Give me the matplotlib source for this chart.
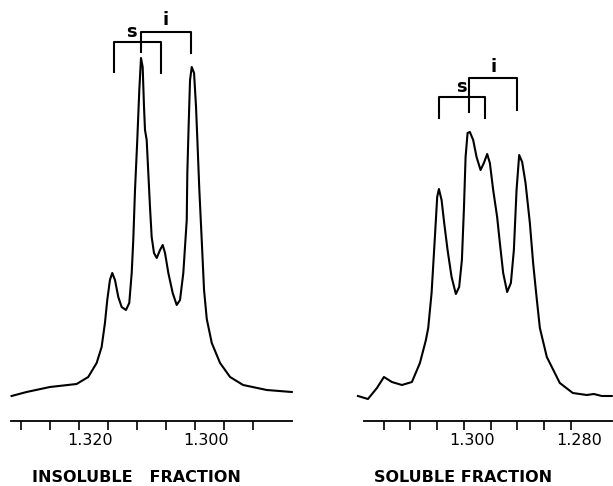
import matplotlib
matplotlib.use("Agg")
import matplotlib.pyplot as plt
from matplotlib.transforms import ScaledTranslation

# ---- traced spectra (chemical shift in ppm / intensity, arbitrary units) ----
insol_ppm = [1.33160, 1.32902, 1.32500, 1.32040, 1.31840, 1.31695, 1.31609,
             1.31552, 1.31512, 1.31466, 1.31426, 1.31379, 1.31322, 1.31264,
             1.31190, 1.31133, 1.31091, 1.31064, 1.31034, 1.30995, 1.30960,
             1.30931, 1.30902, 1.30879, 1.30862, 1.30833, 1.30805, 1.30776,
             1.30747, 1.30707, 1.30660, 1.30603, 1.30557, 1.30517, 1.30460,
             1.30385, 1.30316, 1.30259, 1.30202, 1.30143, 1.30133, 1.30109,
             1.30086, 1.30057, 1.30017, 1.29983, 1.29960, 1.29926, 1.29885,
             1.29845, 1.29798, 1.29712, 1.29569, 1.29397, 1.29172, 1.28764,
             1.28333]
insol_int = [25, 29, 34, 37, 44, 58, 74,
             98, 121, 141, 148, 141, 124, 114,
             111, 118, 148, 181, 231, 281, 331,
             363, 354, 314, 291, 281, 248, 214,
             184, 168, 163, 171, 176, 168, 148,
             128, 116, 121, 148, 201, 248, 298,
             341, 354, 348, 314, 281, 231, 181,
             131, 102, 78, 58, 44, 36, 31,
             29]

sol_ppm = [1.31981, 1.31794, 1.31626, 1.31495, 1.31346, 1.31159, 1.30972,
           1.30822, 1.30710, 1.30667, 1.30604, 1.30542, 1.30499, 1.30467,
           1.30417, 1.30368, 1.30305, 1.30230, 1.30150, 1.30088, 1.30037,
           1.30000, 1.29968, 1.29931, 1.29888, 1.29826, 1.29763, 1.29688,
           1.29626, 1.29564, 1.29514, 1.29452, 1.29378, 1.29327, 1.29265,
           1.29191, 1.29121, 1.29065, 1.29015, 1.28966, 1.28910, 1.28847,
           1.28766, 1.28705, 1.28641, 1.28579, 1.28449, 1.28206, 1.27963,
           1.27701, 1.27570, 1.27421, 1.27234]
sol_int = [25, 22, 33, 44, 39, 36, 39,
           58, 81, 93, 128, 184, 224, 232,
           221, 198, 171, 144, 127, 134, 161,
           211, 264, 288, 289, 281, 264, 251,
           258, 267, 258, 231, 204, 178, 148,
           129, 138, 171, 231, 266, 259, 238,
           198, 158, 124, 93, 64, 38, 28,
           26, 27, 25, 25]

# ---- s / i assignment brackets: (left ppm, right ppm, bar height, left foot, right foot) ----
insol_s = (1.3140, 1.3059, 379, 349, 348)
insol_i = (1.3093, 1.3007, 389, 369, 368)
insol_s_lbl = (1.3109, 389)
insol_i_lbl = (1.3050, 401)

sol_s = (1.30467, 1.29607, 324, 303, 303)
sol_i = (1.29907, 1.29009, 343, 309, 311)
sol_s_lbl = (1.30037, 334)
sol_i_lbl = (1.29439, 354)

insol_ticks = [1.330, 1.325, 1.320, 1.315, 1.310, 1.305, 1.300, 1.295, 1.290]
insol_labeled = [1.320, 1.300]
sol_ticks = [1.315, 1.310, 1.305, 1.300, 1.295, 1.290, 1.285, 1.280]
sol_labeled = [1.300, 1.280]

W, H = 613, 486
fig = plt.figure(figsize=(W / 100, H / 100), dpi=100)


def panel(rect, xlim, axis_bounds, ppm, inten, brk_s, brk_i, s_lbl, i_lbl,
          ticks, labeled, title, title_x, label_dx):
    ax = fig.add_axes(rect)
    ax.plot(ppm, inten, color="black", lw=1.5, solid_joinstyle="round",
            clip_on=False)
    for left, right, top, foot_l, foot_r in (brk_s, brk_i):
        ax.plot([left, left, right, right], [foot_l, top, top, foot_r],
                color="black", lw=1.5, clip_on=False)
    ax.text(*s_lbl, "s", ha="center", va="center", fontsize=13,
            fontweight="bold")
    ax.text(*i_lbl, "i", ha="center", va="center", fontsize=13,
            fontweight="bold")
    ax.set_xlim(*xlim)
    ax.set_ylim(0, 411)
    for sp in ("top", "left", "right"):
        ax.spines[sp].set_visible(False)
    ax.spines["bottom"].set_linewidth(1.3)
    ax.spines["bottom"].set_bounds(*axis_bounds)
    ax.set_yticks([])
    ax.set_xticks(ticks)
    ax.set_xticklabels([f"{t:.3f}" if t in labeled else "" for t in ticks])
    ax.tick_params(axis="x", direction="out", length=6.5, width=1.2,
                   pad=2, labelsize=11.5)
    off = ScaledTranslation(label_dx / 100, 0, fig.dpi_scale_trans)
    for lab in ax.get_xticklabels():
        lab.set_transform(lab.get_transform() + off)
    fig.text(title_x / W, 1 - 477 / H, title, ha="center", va="center",
             fontsize=11.5, fontweight="bold")
    return ax


panel([11 / W, 65 / H, 281 / W, 411 / H], (1.3317, 1.2833), (1.3317, 1.2833),
      insol_ppm, insol_int, insol_s, insol_i, insol_s_lbl, insol_i_lbl,
      insol_ticks, insol_labeled, "INSOLUBLE   FRACTION", 136, 11)
panel([358 / W, 65 / H, 254 / W, 411 / H], (1.3198, 1.2723), (1.3187, 1.2723),
      sol_ppm, sol_int, sol_s, sol_i, sol_s_lbl, sol_i_lbl,
      sol_ticks, sol_labeled, "SOLUBLE FRACTION", 463, 8)

fig.savefig("out.png", dpi=100)
